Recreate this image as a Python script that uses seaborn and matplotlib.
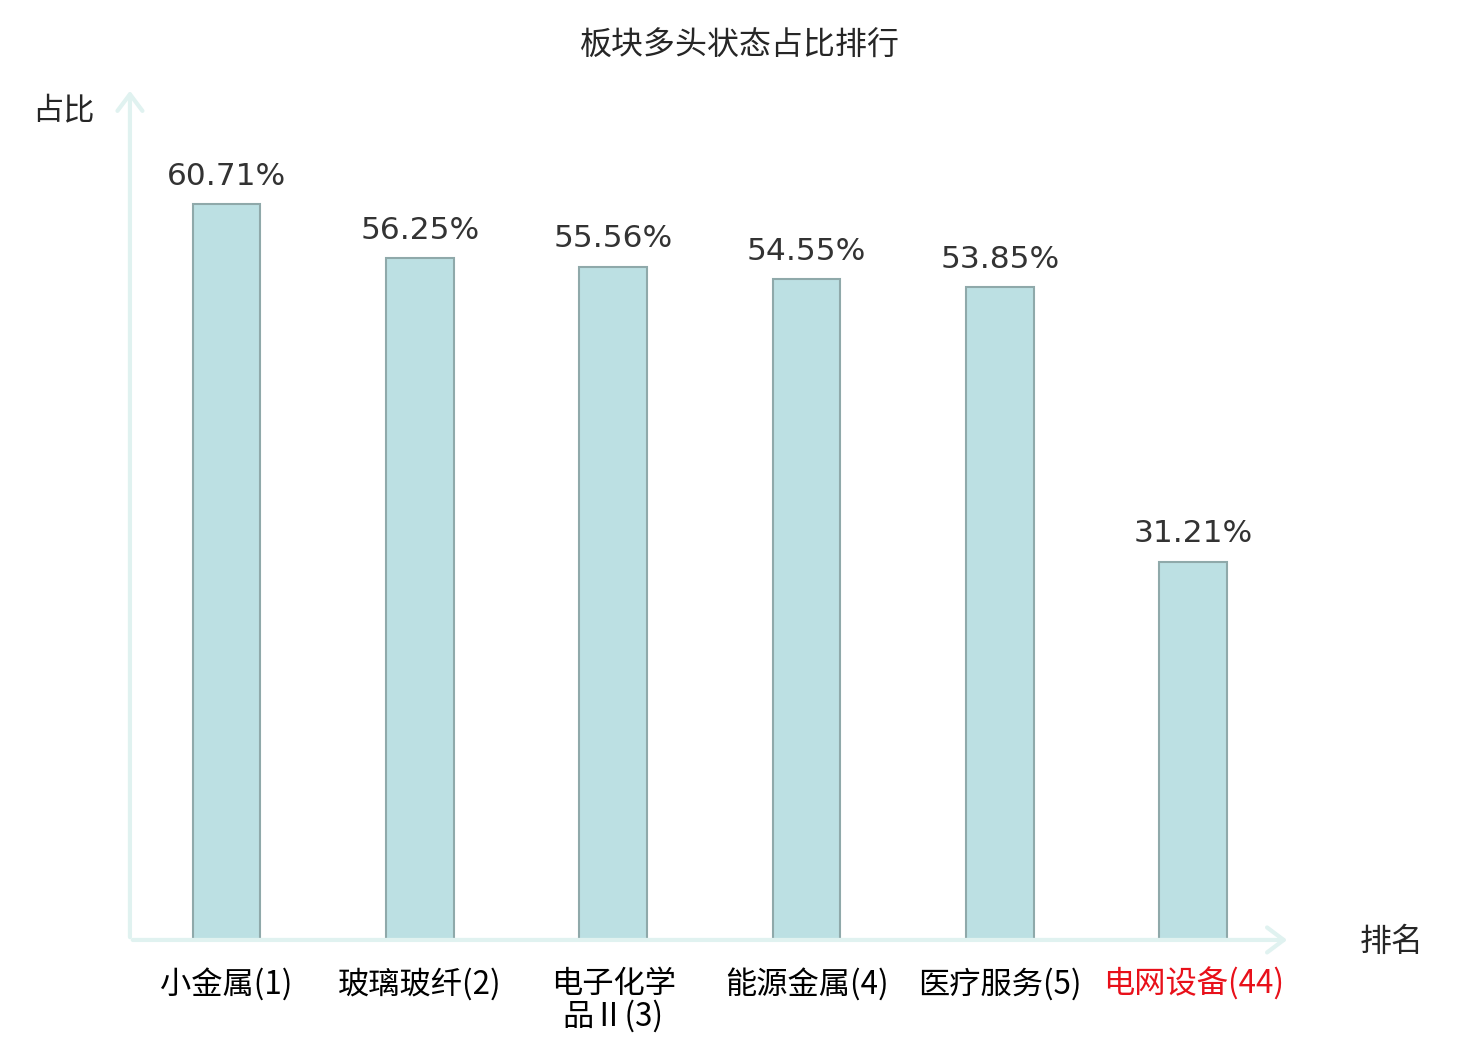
import matplotlib
matplotlib.use("Agg")
import matplotlib.pyplot as plt
import seaborn as sns

# ---------------------------
# Data
# ---------------------------
sectors = ["小金属(1)", "玻璃玻纤(2)", "电子化学\n品Ⅱ(3)", "能源金属(4)", "医疗服务(5)", "电网设备(44)"]
ratios = [60.71, 56.25, 55.56, 54.55, 53.85, 31.21]
label_colors = ["black", "black", "black", "black", "black", "#e8101a"]

BAR_FILL = "#bce0e3"
BAR_EDGE = "#8fa9aa"
AXIS_COLOR = "#e0f2f0"

sns.set_style("white")
plt.rcParams["font.family"] = ["Noto Sans CJK SC", "DejaVu Sans"]

fig = plt.figure(figsize=(14.8, 10.4), dpi=100)
ax = fig.add_axes([0.0878, 0.0962, 0.7838, 0.8192])

sns.barplot(x=sectors, y=ratios, width=0.35, color=BAR_FILL, saturation=1,
            edgecolor=BAR_EDGE, linewidth=1.5, ax=ax)

ax.set_xlim(-0.5, 5.5)
ax.set_ylim(0, 70.3)

# value labels on top of bars
for i, v in enumerate(ratios):
    ax.text(i, v + 1.1, f"{v:.2f}%", ha="center", va="bottom",
            fontsize=22.5, color="#333333", family="DejaVu Sans")

# hide spines, draw arrow axes instead
for s in ax.spines.values():
    s.set_visible(False)
ax.set_yticks([])
ax.tick_params(axis="x", length=0, pad=20, labelsize=22.5)
for lbl, c in zip(ax.get_xticklabels(), label_colors):
    lbl.set_color(c)
    lbl.set_linespacing(1.0)
ax.set_xlabel("")
ax.set_ylabel("")

arrow_kw = dict(arrowstyle="->,head_length=0.6,head_width=0.45", color=AXIS_COLOR,
                lw=3, mutation_scale=20)
ax.annotate("", xy=(1.0, 0), xytext=(0, 0), xycoords="axes fraction",
            textcoords="axes fraction", arrowprops=arrow_kw, annotation_clip=False)
ax.annotate("", xy=(0, 1.0), xytext=(0, 0), xycoords="axes fraction",
            textcoords="axes fraction", arrowprops=arrow_kw, annotation_clip=False)

fig.text(0.5, 0.956, "板块多头状态占比排行", ha="center", va="center", fontsize=23)
fig.text(0.043, 0.894, "占比", ha="center", va="center", fontsize=22.5)
fig.text(0.9405, 0.094, "排名", ha="center", va="center", fontsize=23)

fig.savefig("out.png", dpi=100)
